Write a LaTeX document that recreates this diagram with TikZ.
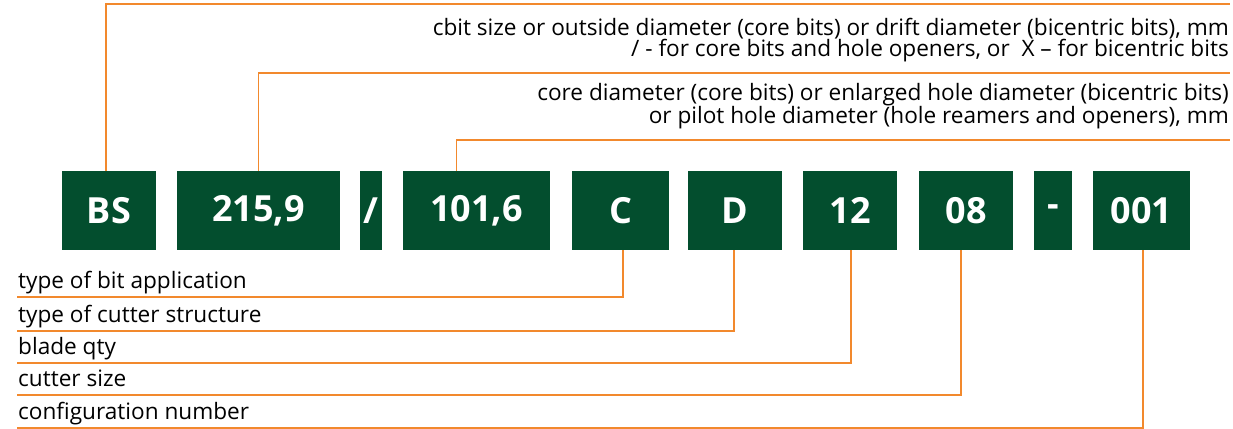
\documentclass[tikz,border=0pt]{standalone}
\usepackage{fontspec}
\setmainfont{Open Sans}
\definecolor{bitgreen}{RGB}{3,78,46}
\definecolor{leadorange}{RGB}{242,137,45}

\begin{document}
\begin{tikzpicture}[x=1pt,y=-1pt,
    code/.style={fill=bitgreen,text=white,inner sep=0pt,minimum height=79pt,
      font=\fontsize{36}{40}\selectfont\bfseries},
    wire/.style={draw=leadorange,line width=1.6pt},
    note/.style={font=\fontsize{22.6}{21.5}\selectfont,text depth=0pt,inner xsep=1pt}]
  \useasboundingbox (0,0) rectangle (1233,428);
  % code boxes
  \foreach \nm/\xa/\xb/\txt in {bs/62/156/BS,size/177/340/{215,9},sl/360/382/{/},core/403/550/{101,6},
      c/572/669/C,d/688/782/D,blades/803/897/12,cutter/919/1013/08,dash/1034/1072/-,num/1093/1190/001}
    \node[code,minimum width=\xb-\xa] (\nm) at ({(\xa+\xb)/2},210.5) {\txt};
  % top leads
  \coordinate (topend) at (1230,4);
  \draw[wire] ([xshift=-3pt]bs.north) |- (topend);
  \node[note,anchor=south east,align=right,inner ysep=16pt] (sizenote) at (1230,73)
    {cbit size or outside diameter (core bits) or drift diameter (bicentric bits), mm\\
     / - for core bits and hole openers, or\ \ X -- for bicentric bits};
  \draw[wire] (size.north) |- (sizenote.south east);
  \node[note,anchor=south east,align=right,inner ysep=16pt] (corenote) at (1230,140)
    {core diameter (core bits) or enlarged hole diameter (bicentric bits)\\
     or pilot hole diameter (hole reamers and openers), mm};
  \draw[wire] ([xshift=-20pt]core.north) |- (corenote.south east);
  % bottom leads
  \foreach \nm/\src/\dx/\yy/\txt in {app/c/2.5/297/type of bit application,
      struct/d/-1/331/type of cutter structure,qty/blades/1/363/blade qty,
      csize/cutter/-5/395/cutter size,conf/num/1.5/428/configuration number}{
    \node[note,anchor=south west,inner ysep=8pt] (\nm) at (17,\yy) {\txt};
    \draw[wire] ([xshift=\dx pt]\src.south) |- (\nm.south west);
  }
\end{tikzpicture}
\end{document}
